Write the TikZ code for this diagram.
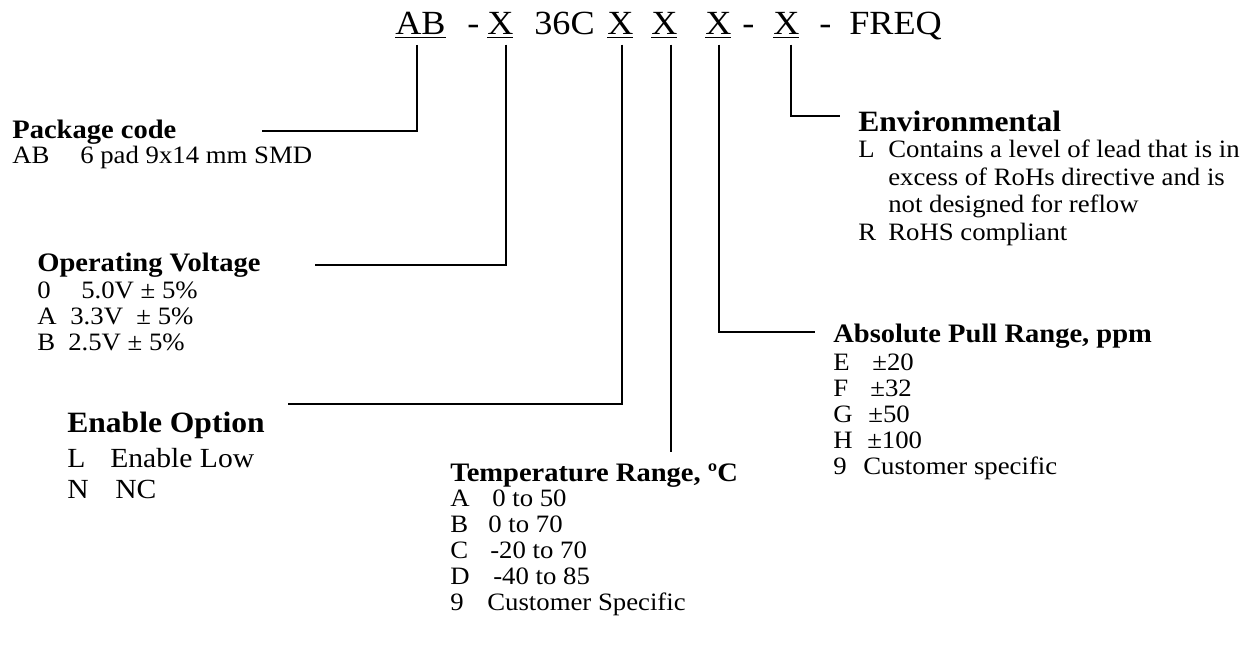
\documentclass[tikz,border=0pt]{standalone}
\usepackage{fontspec}
\setmainfont{Liberation Serif}[FakeStretch=1.07]
\usepackage{tikz}

\newcommand{\optline}[3]{\makebox[#1][l]{#2}#3}

\tikzset{
  code/.style={anchor=base west, inner sep=0pt, font=\fontsize{20.3}{24}\selectfont},
  head/.style={anchor=base west, inner sep=0pt, font=\fontsize{16}{19}\selectfont\bfseries},
  bighead/.style={anchor=base west, inner sep=0pt, font=\fontsize{17.7}{21}\selectfont\bfseries},
  item/.style={anchor=base west, inner sep=0pt, font=\fontsize{15}{17}\selectfont},
  bigitem/.style={anchor=base west, inner sep=0pt, font=\fontsize{16.6}{19}\selectfont},
  link/.style={line width=1pt, shorten <=3.6pt},
}

\begin{document}
\begin{tikzpicture}[x=0.6pt, y=-0.6pt]
        \useasboundingbox (0,0) rectangle (1254,661);

        % part number
        \node[code] (cAB) at (395,35) {\underline{AB}};
        \node[code] (d1) at (467,35) {-};
        \node[code] (cV) at (487,35) {\underline{X}};
        \node[code] (c36) at (534,35) {36C};
        \node[code] (cE) at (607,35) {\underline{X}};
        \node[code] (cT) at (651,35) {\underline{X}};
        \node[code] (cP) at (705,35) {\underline{X}};
        \node[code] (d2) at (742,35) {-};
        \node[code] (cR) at (773,35) {\underline{X}};
        \node[code] (d3) at (819,35) {-};
        \node[code] (cF) at (849,35) {FREQ};

        % package
        \node[head] (pkg) at (12,139) {Package code};
        \node[item] (pkg1) at (12,164) {\optline{40.8pt}{AB}{6 pad 9x14 mm SMD}};

        % voltage
        \node[head] (vlt) at (37,272) {Operating Voltage};
        \node[item] (vlt1) at (37,299) {\optline{26.4pt}{0}{5.0V ± 5\%}};
        \node[item] (vlt2) at (37,325) {\optline{19.8pt}{A}{3.3V\ \ ± 5\%}};
        \node[item] (vlt3) at (37,351) {\optline{18.6pt}{B}{2.5V ± 5\%}};

        % enable
        \node[bighead] (enb) at (67,433) {Enable Option};
        \node[bigitem] (enb1) at (67,468) {\optline{25.8pt}{L}{Enable Low}};
        \node[bigitem] (enb2) at (67,498) {\optline{28.8pt}{N}{NC}};

        % temperature
        \node[head] (tmp) at (450,481) {Temperature Range, ºC};
        \node[item] (tmp1) at (450,506) {\optline{25.2pt}{A}{0 to 50}};
        \node[item] (tmp2) at (450,532) {\optline{22.8pt}{B}{0 to 70}};
        \node[item] (tmp3) at (450,558) {\optline{24pt}{C}{-20 to 70}};
        \node[item] (tmp4) at (450,584) {\optline{25.8pt}{D}{-40 to 85}};
        \node[item] (tmp5) at (450,610) {\optline{22.2pt}{9}{Customer Specific}};

        % pull range
        \node[head] (pul) at (833,343) {Absolute Pull Range, ppm};
        \node[item] (pul1) at (833,370) {\optline{23.4pt}{E}{±20}};
        \node[item] (pul2) at (833,396) {\optline{22.2pt}{F}{±32}};
        \node[item] (pul3) at (833,422) {\optline{21pt}{G}{±50}};
        \node[item] (pul4) at (833,448) {\optline{20.4pt}{H}{±100}};
        \node[item] (pul5) at (833,474) {\optline{18pt}{9}{Customer specific}};

        % environmental
        \node[bighead] (env) at (858,132) {Environmental};
        \node[item] (env1) at (858,158) {\optline{18pt}{L}{Contains a level of lead that is in}};
        \node[item] (env2) at (888,186) {excess of RoHs directive and is};
        \node[item] (env3) at (888,213) {not designed for reflow};
        \node[item] (env4) at (858,241) {\optline{18pt}{R}{RoHS compliant}};

        % bends and free ends
        \coordinate (pkgbend) at (417,131);
        \coordinate (pkgend) at (262,131);
        \coordinate (vltbend) at (506,265);
        \coordinate (vltend) at (315,265);
        \coordinate (enbbend) at (622,404);
        \coordinate (enbend) at (288,404);
        \coordinate (tmpend) at (671,452);
        \coordinate (pulbend) at (719,332);
        \coordinate (pulend) at (815,332);
        \coordinate (envbend) at (791,116);
        \coordinate (envend) at (840,116);

        \draw[link] (cAB.south -| pkgbend) -- (pkgbend) -- (pkgend);
        \draw[link] (cV.south -| vltbend) -- (vltbend) -- (vltend);
        \draw[link] (cE.south -| enbbend) -- (enbbend) -- (enbend);
        \draw[link] (cT.south -| tmpend) -- (tmpend);
        \draw[link] (cP.south -| pulbend) -- (pulbend) -- (pulend);
        \draw[link] (cR.south -| envbend) -- (envbend) -- (envend);
    \end{tikzpicture}
\end{document}
